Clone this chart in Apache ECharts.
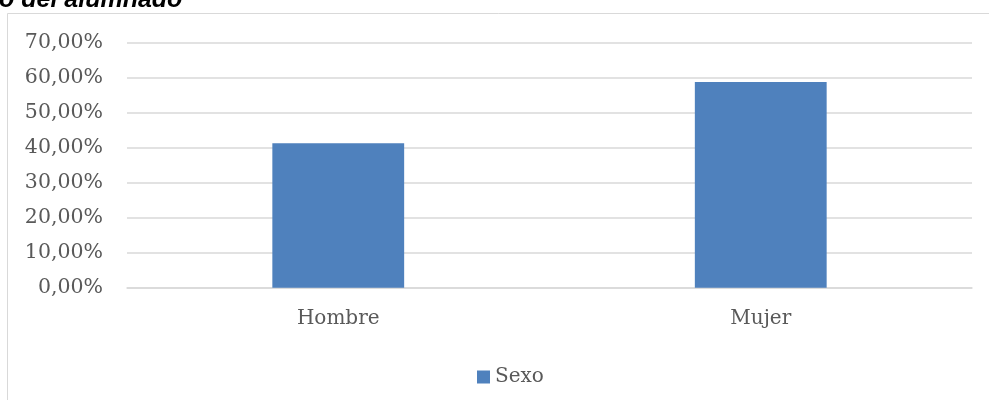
<!DOCTYPE html>
<html>
<head>
<meta charset="utf-8">
<script src="https://cdn.jsdelivr.net/npm/echarts@6/dist/echarts.min.js"></script>
<style>
html,body{margin:0;padding:0;background:#fff;}
#chart{width:989px;height:400px;}
</style>
</head>
<body>
<div id="chart"></div>
<script>
const categories = ['Hombre', 'Mujer'];
const seriesName = 'Sexo';
const values = [41.25, 58.75];
const yTicks = [0, 10, 20, 30, 40, 50, 60, 70];
const titleText = 'o del alumnado';

const chart = echarts.init(document.getElementById('chart'), null, {renderer: 'canvas'});
const labelFont = 'DejaVu Serif';
chart.setOption({
  animation: false,
  backgroundColor: '#ffffff',
  graphic: [
    {type: 'rect', shape: {x: 7.5, y: 13.5, width: 1000, height: 400}, style: {fill: 'none', stroke: '#d9d9d9', lineWidth: 1}, silent: true},
    {type: 'text', x: -1, y: 0, style: {text: titleText, font: 'italic bold 25px "Liberation Sans"', fill: '#000000', verticalAlign: 'middle'}}
  ],
  grid: {left: 127, right: 17, top: 42.7, bottom: 112.3, containLabel: false},
  legend: {
    data: [seriesName], top: 362, left: 472, icon: 'rect',
    itemWidth: 13, itemHeight: 13, itemGap: 5,
    textStyle: {fontFamily: labelFont, fontSize: 20, color: '#595959'}
  },
  xAxis: {
    type: 'category', data: categories,
    axisLine: {lineStyle: {color: '#d9d9d9', width: 1.5}},
    axisTick: {show: false},
    axisLabel: {fontFamily: labelFont, fontSize: 20, color: '#595959', margin: 21}
  },
  yAxis: {
    type: 'value', min: yTicks[0], max: yTicks[yTicks.length - 1], interval: 10,
    axisLine: {show: false}, axisTick: {show: false},
    splitLine: {lineStyle: {color: '#d9d9d9', width: 1.5}},
    axisLabel: {
      fontFamily: labelFont, fontSize: 20.5, color: '#595959', margin: 24,
      formatter: v => v.toFixed(2).replace('.', ',') + '%'
    }
  },
  series: [{
    name: seriesName, type: 'bar', data: values, barWidth: '31.2%',
    itemStyle: {color: '#4f81bd'}
  }]
});
</script>
</body>
</html>
